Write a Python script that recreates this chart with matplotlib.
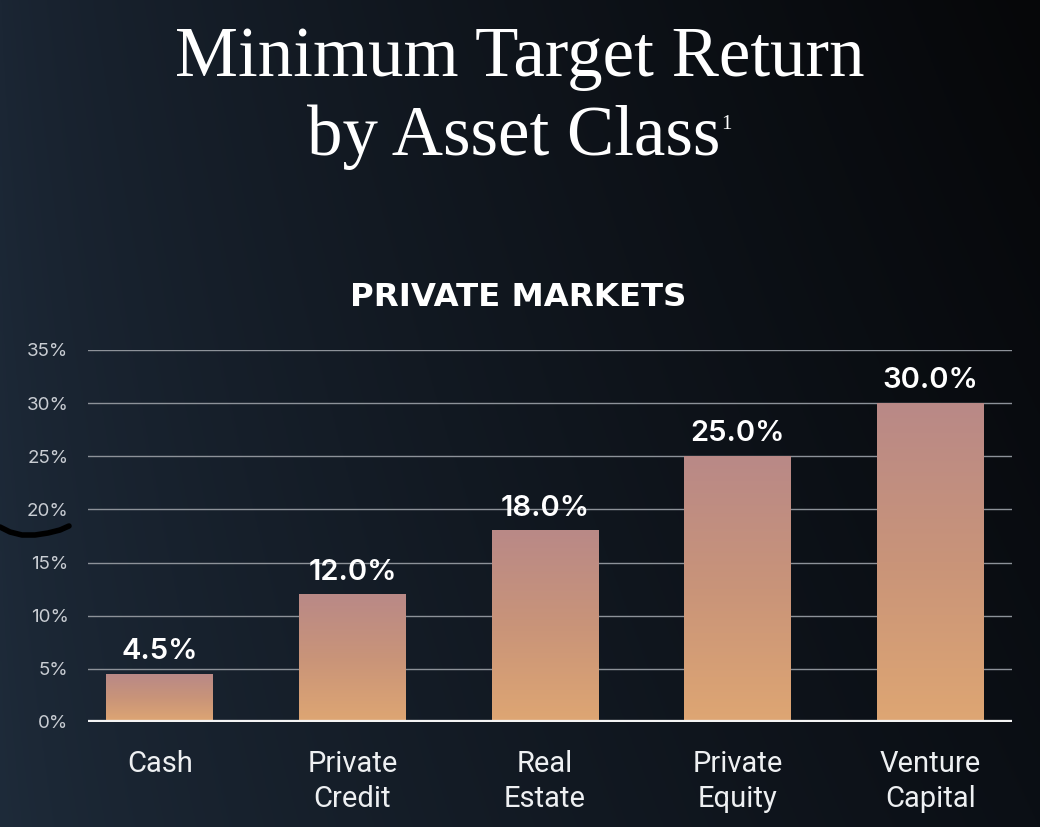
import matplotlib

matplotlib.use("Agg")
import matplotlib.pyplot as plt
import numpy as np
from matplotlib.colors import LinearSegmentedColormap, to_rgb

categories = ["Cash", "Private\nCredit", "Real\nEstate", "Private\nEquity", "Venture\nCapital"]
returns = [4.5, 12.0, 18.0, 25.0, 30.0]
yticks = [0, 5, 10, 15, 20, 25, 30, 35]

W, H = 1040, 827
fig = plt.figure(figsize=(W / 100, H / 100), dpi=100)

# background: navy on the left fading to near-black on the right
bg = fig.add_axes([0, 0, 1, 1], zorder=-10)
gx = np.linspace(0, 1, 400)[None, :]
gy = np.linspace(0, 1, 300)[:, None]
tl, tr = np.array(to_rgb("#1b2634")), np.array(to_rgb("#060709"))
bl, br = np.array(to_rgb("#1e2b3a")), np.array(to_rgb("#0b0f15"))
tx = gx ** 0.75
top = tl[None, None, :] * (1 - tx[..., None]) + tr[None, None, :] * tx[..., None]
bot = bl[None, None, :] * (1 - tx[..., None]) + br[None, None, :] * tx[..., None]
img = bot * (1 - gy[..., None]) + top * gy[..., None]
bg.imshow(img, extent=[0, 1, 0, 1], aspect="auto", origin="lower")
bg.set_axis_off()

ax = fig.add_axes([88 / W, 1 - 722 / H, (1012 - 88) / W, (722 - 350) / H])
ax.set_facecolor("none")
x = np.arange(len(categories))
width = 0.555

bar_cmap = LinearSegmentedColormap.from_list("bar", ["#dea673", "#c99479", "#b98987"])
grad = np.linspace(0, 1, 256)[:, None]
for xi, v in zip(x, returns):
    ax.imshow(grad, cmap=bar_cmap, extent=[xi - width / 2, xi + width / 2, 0, v],
              origin="lower", aspect="auto", zorder=2)
    ax.text(xi, v + 1.4, f"{v:.1f}%", ha="center", va="baseline", color="white",
            fontsize=21, fontweight="semibold", family=["Inter", "DejaVu Sans"], zorder=4)
ax.set_xlim(-0.373, 4.425)
ax.set_ylim(0, 35)

for t in yticks[1:]:
    ax.axhline(t, color="#8d9299", lw=1.0, zorder=1)
ax.axhline(0, color="#f4f4f4", lw=3.8, zorder=3)

for s in ax.spines.values():
    s.set_visible(False)
ax.set_yticks(yticks, [f"{t}%" for t in yticks])
ax.set_xticks(x, categories)
ax.tick_params(axis="y", length=0, pad=14, labelsize=13.5, labelcolor="#c9cdd3")
ax.tick_params(axis="x", length=0, pad=20, labelsize=21, labelcolor="#eef0f2")
for lab in ax.get_yticklabels():
    lab.set_family(["Inter", "DejaVu Sans"])
for lab in ax.get_xticklabels():
    lab.set_family(["Roboto", "DejaVu Sans"])
    lab.set_linespacing(1.32)

# titles
fig.text(0.5, 1 - 76 / H, "Minimum Target Return", ha="center", va="baseline",
         color="white", fontsize=51, family=["Liberation Serif", "DejaVu Serif"])
t2 = fig.text(514 / W, 1 - 155 / H, "by Asset Class", ha="center", va="baseline",
              color="white", fontsize=51, family=["Liberation Serif", "DejaVu Serif"])
fig.text(0.498, 1 - 297 / H, "PRIVATE MARKETS", ha="center", va="center", color="white",
         fontsize=23.3, fontweight="bold", family=["DejaVu Sans"])
ax.annotate("1", xy=(1, 0.62), xycoords=t2, xytext=(0, 0), textcoords="offset points",
            ha="left", va="baseline", color="white", fontsize=15,
            family=["Liberation Serif", "DejaVu Serif"], annotation_clip=False)

# black pen stroke on the left edge of the picture
sx = np.array([0, 10, 22, 35, 48, 60, 69]) / W
sy = 1 - np.array([527, 532, 535, 535, 533, 530, 526]) / H
fig.add_artist(plt.Line2D(sx, sy, color="black", lw=4, solid_capstyle="round",
                          transform=fig.transFigure))

fig.savefig("out.png", dpi=100)
